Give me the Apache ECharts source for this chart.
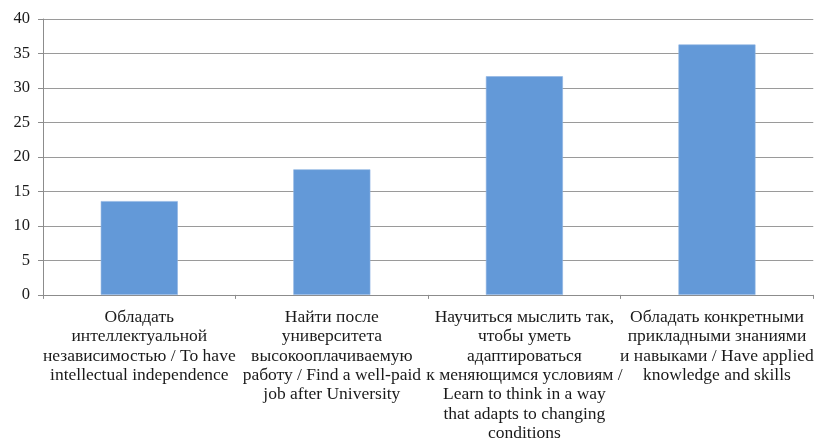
<!DOCTYPE html>
<html>
<head>
<meta charset="utf-8">
<script src="https://cdn.jsdelivr.net/npm/echarts@6/dist/echarts.min.js"></script>
<style>html,body{margin:0;padding:0;background:#fff}#c{width:816px;height:443px}</style>
</head>
<body>
<div id="c"></div>
<script>
const categories = [
  "Обладать\nинтеллектуальной\nнезависимостью / To have\nintellectual independence",
  "Найти после\nуниверситета\nвысокооплачиваемую\nработу / Find a well-paid\njob after University",
  "Научиться мыслить так,\nчтобы уметь\nадаптироваться\nк меняющимся условиям /\nLearn to think in a way\nthat adapts to changing\nconditions",
  "Обладать конкретными\nприкладными знаниями\nи навыками / Have applied\nknowledge and skills"
];
const values = [13.6, 18.2, 31.7, 36.3];
const yTicks = { min: 0, max: 40, interval: 5 };

const chart = echarts.init(document.getElementById('c'));
chart.setOption({
  animation: false,
  textStyle: { fontFamily: 'Liberation Serif' },
  grid: { left: 43, width: 777, top: 19, height: 281, containLabel: false },
  xAxis: {
    type: 'category',
    data: categories,
    axisLine: { lineStyle: { color: '#8c8c8c', width: 1 } },
    axisTick: { show: true, length: 4, alignWithLabel: false, lineStyle: { color: '#8c8c8c' } },
    axisLabel: {
      interval: 0, margin: 13, color: '#1a1a1a', fontSize: 17.5, lineHeight: 19.3,
      fontFamily: 'Liberation Serif', align: 'center', overflow: 'none'
    }
  },
  yAxis: {
    type: 'value',
    min: yTicks.min, max: yTicks.max, interval: yTicks.interval,
    axisLine: { show: true, lineStyle: { color: '#8c8c8c', width: 1 } },
    axisTick: { show: true, length: 5, lineStyle: { color: '#8c8c8c' } },
    axisLabel: { margin: 13, color: '#1a1a1a', fontSize: 16.5, fontFamily: 'Liberation Serif' },
    splitLine: { lineStyle: { color: '#9a9a9a', width: 1.2 } }
  },
  series: [{
    type: 'bar',
    data: values,
    barWidth: '40%',
    itemStyle: { color: '#6399d8', borderColor: '#8db4e2', borderWidth: 0.6 }
  }]
});
</script>
</body>
</html>
